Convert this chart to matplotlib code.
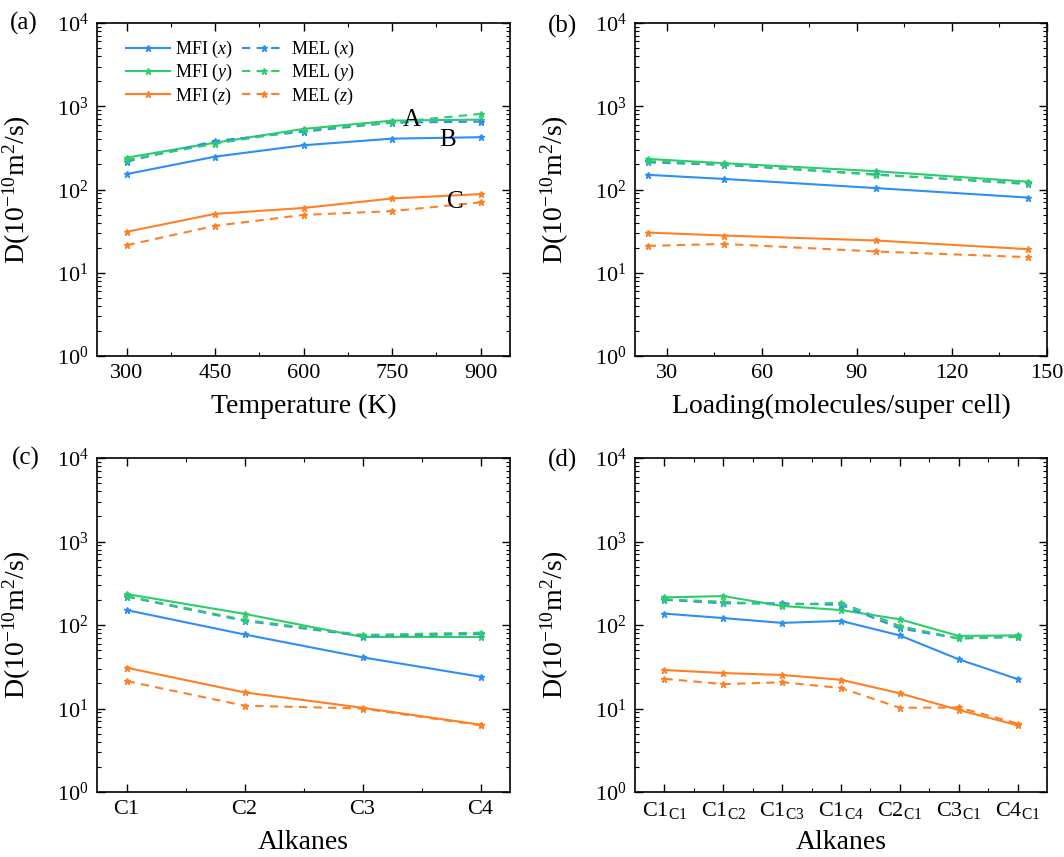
import matplotlib
matplotlib.use("Agg")
import matplotlib.pyplot as plt
from matplotlib.ticker import LogLocator, MultipleLocator, NullFormatter, FixedLocator
import numpy as np

plt.rcParams['font.family'] = ['Liberation Serif', 'DejaVu Serif']
plt.rcParams['mathtext.fontset'] = 'custom'
plt.rcParams['mathtext.rm'] = 'Liberation Serif'
plt.rcParams['mathtext.it'] = 'Liberation Serif:italic'

# (a) temperature
temp = [300, 450, 600, 750, 900]
a_mfi_x = [153, 248, 340, 408, 425]
a_mfi_y = [241, 365, 534, 672, 691]
a_mfi_z = [31, 51, 60, 78, 88]
a_mel_x = [216, 383, 495, 635, 653]
a_mel_y = [226, 355, 519, 640, 809]
a_mel_z = [21.4, 36.6, 49.5, 55, 70]

# (b) loading
loading = [24, 48, 96, 144]
b_mfi_x = [150, 134, 104, 80]
b_mfi_y = [233, 207, 166, 124]
b_mfi_z = [30.4, 28, 24.4, 19.2]
b_mel_x = [212, 197, 152, 116]
b_mel_y = [220, 201, 150, 119]
b_mel_z = [21, 22.2, 18, 15.4]

# (c) alkanes
alk_c = ["C1", "C2", "C3", "C4"]
c_mfi_x = [151, 77, 41, 24]
c_mfi_y = [235, 136, 72, 72]
c_mfi_z = [30.8, 15.6, 10.2, 6.4]
c_mel_x = [219, 112, 74, 78]
c_mel_y = [222, 115, 76, 81]
c_mel_z = [21.3, 10.8, 10.0, 6.3]

# (d) mixtures
alk_d = [r"C1$_{\mathrm{C1}}$", r"C1$_{\mathrm{C2}}$", r"C1$_{\mathrm{C3}}$", r"C1$_{\mathrm{C4}}$",
         r"C2$_{\mathrm{C1}}$", r"C3$_{\mathrm{C1}}$", r"C4$_{\mathrm{C1}}$"]
d_mfi_x = [137, 121, 106, 112, 75, 38.8, 22.5]
d_mfi_y = [214, 222, 169, 151, 117, 74, 75]
d_mfi_z = [28.9, 26.6, 25.2, 22.1, 15.2, 9.6, 6.3]
d_mel_x = [200, 182, 182, 174, 91, 69, 72]
d_mel_y = [203, 190, 174, 185, 97, 69, 72]
d_mel_z = [22.7, 19.6, 20.6, 17.6, 10.2, 10.3, 6.6]

blue = '#2b8ff5'
green = '#2dcc6c'
orange = '#ff8024'

fig = plt.figure(figsize=(10.64, 8.57), dpi=100)
W, H = 1064., 857.
ax_a = fig.add_axes([97/W, 1-356/H, 413/W, 333/H])
ax_b = fig.add_axes([635/W, 1-356/H, 412/W, 333/H])
ax_c = fig.add_axes([97/W, 1-792/H, 413/W, 334/H])
ax_d = fig.add_axes([635/W, 1-792/H, 412/W, 334/H])


def draw(ax, x, mfi_x, mfi_y, mfi_z, mel_x, mel_y, mel_z):
    kw = dict(marker='*', markersize=4.5, linewidth=1.5)
    ax.plot(x, mfi_x, color=blue, ls='-', label=r'MFI ($x$)', **kw)
    ax.plot(x, mfi_y, color=green, ls='-', label=r'MFI ($y$)', **kw)
    ax.plot(x, mfi_z, color=orange, ls='-', label=r'MFI ($z$)', **kw)
    ax.plot(x, mel_x, color=blue, ls=(0, (4, 3)), label=r'MEL ($x$)', **kw)
    ax.plot(x, mel_y, color=green, ls=(0, (4, 3)), label=r'MEL ($y$)', **kw)
    ax.plot(x, mel_z, color=orange, ls=(0, (4, 3)), label=r'MEL ($z$)', **kw)
    ax.set_yscale('log')
    ax.set_ylim(1, 1e4)
    ax.yaxis.set_major_locator(LogLocator(base=10, numticks=10))
    ax.yaxis.set_minor_locator(LogLocator(base=10, subs=np.arange(2, 10), numticks=10))
    ax.yaxis.set_minor_formatter(NullFormatter())
    ax.tick_params(which='both', direction='in', top=True, right=True, labelsize=16)
    ax.tick_params(which='major', length=6, width=1.0, pad=6)
    ax.tick_params(which='minor', length=3, width=0.8)
    for s in ax.spines.values():
        s.set_linewidth(1.2)
    ax.set_ylabel(r'D(10$^{-10}$m$^2$/s)', fontsize=20)
    ax.yaxis.set_label_coords(-0.155, 0.5)


draw(ax_a, temp, a_mfi_x, a_mfi_y, a_mfi_z, a_mel_x, a_mel_y, a_mel_z)
ax_a.set_xlim(250, 950)
ax_a.xaxis.set_major_locator(MultipleLocator(150))
ax_a.xaxis.set_minor_locator(MultipleLocator(75))
ax_a.set_xlabel('Temperature (K)', fontsize=20)
ax_a.legend(ncol=2, loc='upper left', frameon=False, fontsize=13, handlelength=2.4,
            columnspacing=0.5, handletextpad=0.3, labelspacing=0.12,
            bbox_to_anchor=(0.045, 0.985), borderaxespad=0.2)
ax_a.text(784, 684, 'A', fontsize=18, ha='center', va='center')
ax_a.text(845, 394, 'B', fontsize=18, ha='center', va='center')
ax_a.text(857, 71, 'C', fontsize=18, ha='center', va='center')

draw(ax_b, loading, b_mfi_x, b_mfi_y, b_mfi_z, b_mel_x, b_mel_y, b_mel_z)
ax_b.set_xlim(20, 150)
ax_b.xaxis.set_major_locator(MultipleLocator(30))
ax_b.xaxis.set_minor_locator(MultipleLocator(15))
ax_b.set_xlabel('Loading(molecules/super cell)', fontsize=20)

xc = np.arange(1, len(alk_c) + 1)
draw(ax_c, xc, c_mfi_x, c_mfi_y, c_mfi_z, c_mel_x, c_mel_y, c_mel_z)
ax_c.set_xlim(0.75, 4.25)
ax_c.set_xticks(xc)
ax_c.set_xticklabels(alk_c)
ax_c.xaxis.set_minor_locator(FixedLocator(xc[:-1] + 0.5))
ax_c.set_xlabel('Alkanes', fontsize=20)

xd = np.arange(1, len(alk_d) + 1)
draw(ax_d, xd, d_mfi_x, d_mfi_y, d_mfi_z, d_mel_x, d_mel_y, d_mel_z)
ax_d.set_xlim(0.5, 7.5)
ax_d.set_xticks(xd)
ax_d.set_xticklabels(alk_d)
ax_d.xaxis.set_minor_locator(FixedLocator(xd[:-1] + 0.5))
ax_d.set_xlabel('Alkanes', fontsize=20)

for ax in (ax_a, ax_b, ax_c, ax_d):
    ax.xaxis.set_label_coords(0.5, -0.115)

fig.text(10/W, 1-23/H, '(a)', fontsize=18, va='center', ha='left')
fig.text(548/W, 1-26/H, '(b)', fontsize=18, va='center', ha='left')
fig.text(12/W, 1-458/H, '(c)', fontsize=18, va='center', ha='left')
fig.text(548/W, 1-460/H, '(d)', fontsize=18, va='center', ha='left')

fig.savefig('out.png', dpi=100)
